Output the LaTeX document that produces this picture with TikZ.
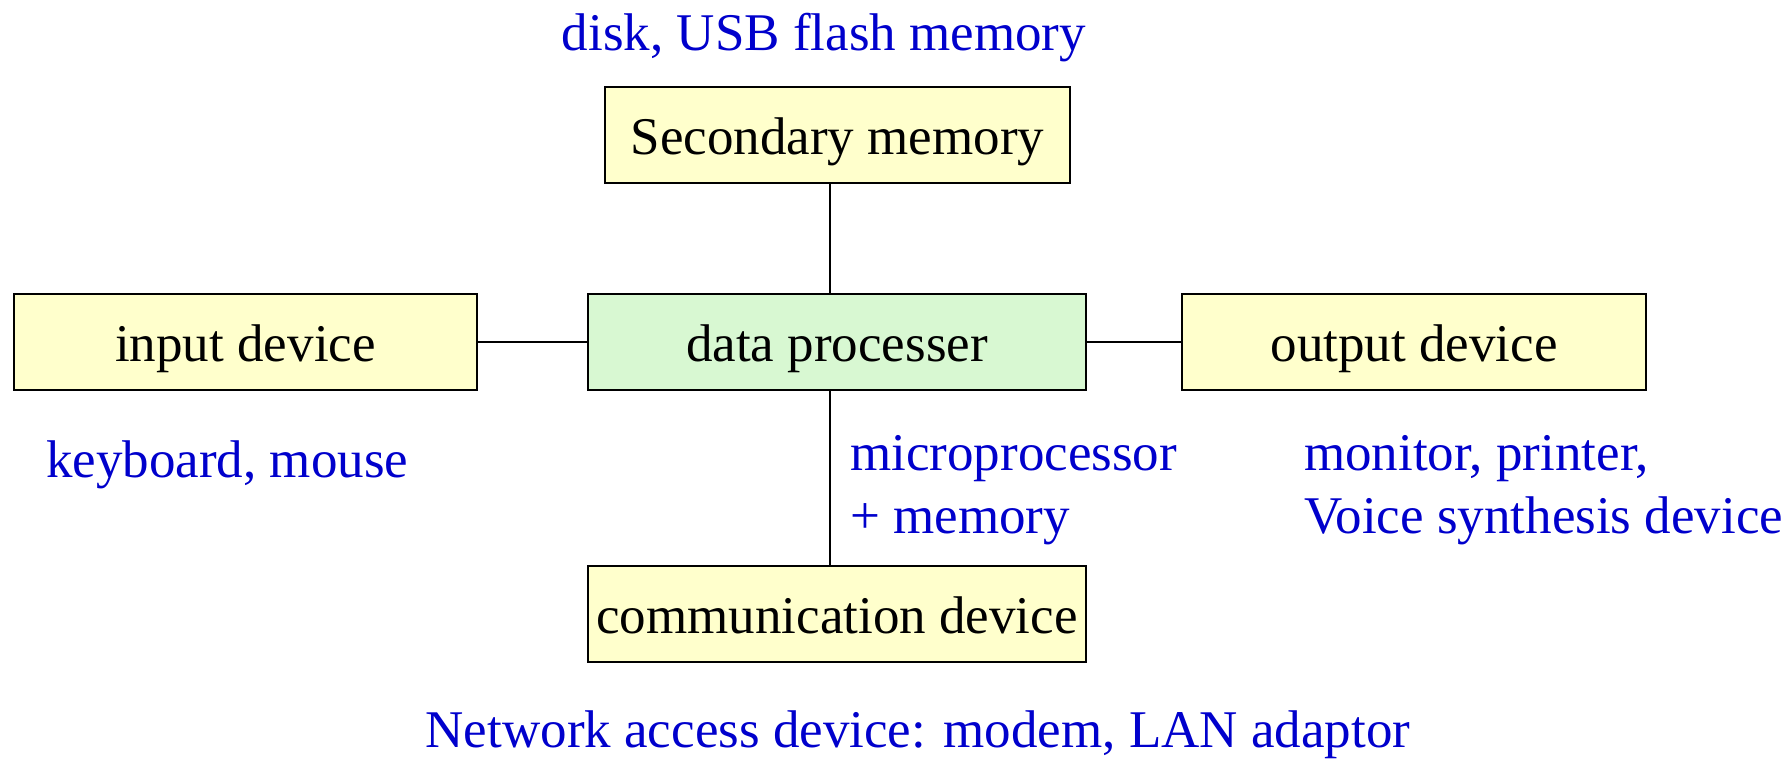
\documentclass[tikz,border=0pt]{standalone}
\usepackage{fontspec}
\setmainfont{Liberation Serif}
\definecolor{boxyellow}{HTML}{FFFFCC}
\definecolor{boxgreen}{HTML}{D8F8D2}
\definecolor{notecolor}{HTML}{0000CC}
\begin{document}
\begin{tikzpicture}[x=1pt,y=-1pt,
  unit/.style={draw=black, line width=2pt, inner sep=0pt, minimum height=96pt,
    text height=38pt, text depth=0pt,
    font=\fontsize{53}{60}\selectfont},
  yellowunit/.style={unit, fill=boxyellow},
  greenunit/.style={unit, fill=boxgreen},
  note/.style={text=notecolor, inner sep=0pt, font=\fontsize{53}{60}\selectfont},
  link/.style={line width=2pt}]
\useasboundingbox (0,0) rectangle (1789,758);

% units
\node[yellowunit, minimum width=465pt] (sec) at (837.5,135) {Secondary memory};
\node[yellowunit, minimum width=463pt] (inp) at (245.5,342) {input device};
\node[greenunit,  minimum width=498pt] (dat) at (837,342) {data processer};
\node[yellowunit, minimum width=464pt] (out) at (1414,342) {output device};
\node[yellowunit, minimum width=498pt] (com) at (837,614) {communication device};

% vertical bus position
\coordinate (vx) at (830,0);

% connections
\draw[link] (sec.south -| vx) -- (dat.north -| vx);
\draw[link] (dat.south -| vx) -- (com.north -| vx);
\draw[link] (inp.east) -- (dat.west);
\draw[link] (dat.east) -- (out.west);

% examples
\node[note, anchor=base] (secnote) at (824,50) {disk, USB flash memory};
\node[note, anchor=base west] (inpnote) at (46,477) {keyboard, mouse};
\node[note, anchor=base west] (datnote1) at (850,470) {microprocessor};
\node[note, anchor=base west] (datnote2) at (850,533) {+ memory};
\node[note, anchor=base west] (outnote1) at (1304,470) {monitor, printer,};
\node[note, anchor=base west] (outnote2) at (1304,533) {Voice synthesis device};
\node[note, anchor=base] (comnote) at (918,747) {Network access device: modem, LAN adaptor};
\end{tikzpicture}
\end{document}
